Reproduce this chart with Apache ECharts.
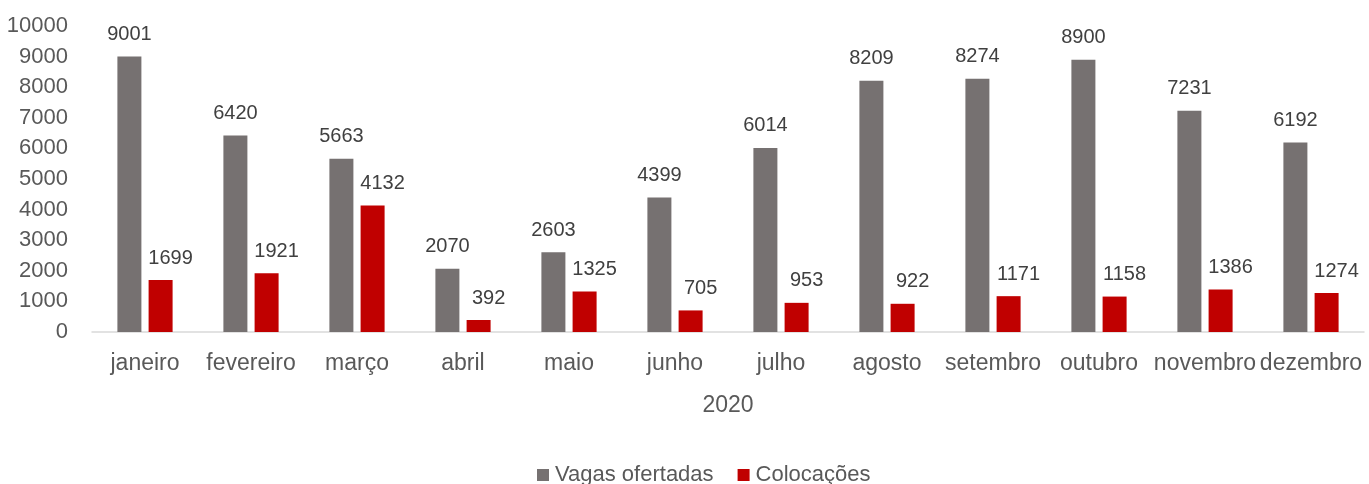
<!DOCTYPE html>
<html><head><meta charset="utf-8">
<script src="https://cdn.jsdelivr.net/npm/echarts@6/dist/echarts.min.js"></script>
<style>html,body{margin:0;padding:0;background:#fff}#c{width:1369px;height:484px}</style>
</head><body><div id="c"></div>
<script>
const categories = ['janeiro','fevereiro','março','abril','maio','junho','julho','agosto','setembro','outubro','novembro','dezembro'];
const vagas = [9001,6420,5663,2070,2603,4399,6014,8209,8274,8900,7231,6192];
const colocacoes = [1699,1921,4132,392,1325,705,953,922,1171,1158,1386,1274];
const yTicks = {min:0, max:10000, interval:1000};
const xName = '2020';
const font = 'Liberation Sans, Arial, sans-serif';
const txt = '#595959';
const chart = echarts.init(document.getElementById('c'), null, {renderer:'canvas'});
chart.setOption({
  animation:false,
  textStyle:{fontFamily:font},
  grid:{left:92,right:5,top:26,bottom:152,containLabel:false},
  legend:{top:459,left:532,itemWidth:12,itemHeight:12,itemGap:24,icon:'rect',
    textStyle:{fontSize:22,color:txt,fontFamily:font,padding:[0,0,0,1]},
    data:['Vagas ofertadas','Colocações']},
  xAxis:{type:'category',data:categories,name:xName,nameLocation:'middle',nameGap:62,
    nameTextStyle:{fontSize:23,color:txt,fontFamily:font},
    axisLine:{lineStyle:{color:'#d9d9d9',width:1.5}},axisTick:{show:false},
    axisLabel:{fontSize:23,color:txt,margin:20,interval:0,fontFamily:font}},
  yAxis:{type:'value',min:yTicks.min,max:yTicks.max,interval:yTicks.interval,
    splitLine:{show:false},axisLine:{show:false},axisTick:{show:false},
    axisLabel:{fontSize:22,color:txt,margin:24,fontFamily:font,formatter:v=>String(v)}},
  series:[
    {name:'Vagas ofertadas',type:'bar',data:vagas,barWidth:24,barGap:'30%',
     itemStyle:{color:'#767171'},
     label:{show:true,position:'top',distance:12,fontSize:20,color:'#404040',fontFamily:font}},
    {name:'Colocações',type:'bar',data:colocacoes,barWidth:24,
     itemStyle:{color:'#C00000'},
     label:{show:true,position:'top',distance:12,offset:[10,0],fontSize:20,color:'#404040',fontFamily:font}}
  ]
});
</script></body></html>
